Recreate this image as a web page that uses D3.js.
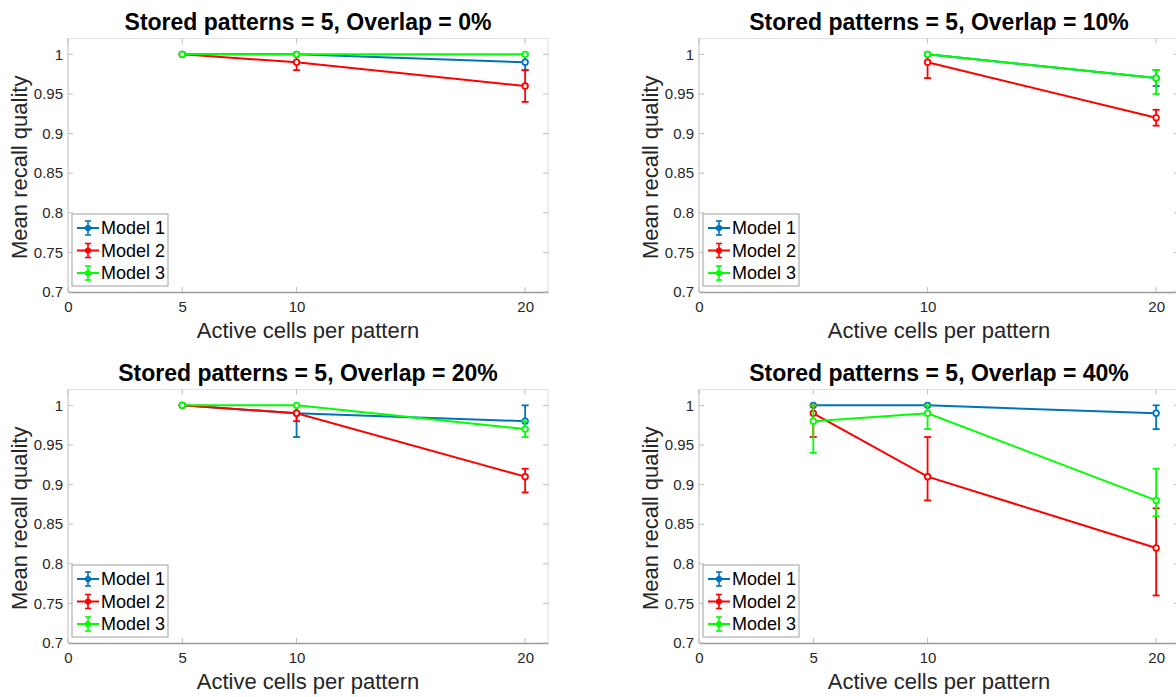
<!DOCTYPE html>
<html>
<head>
<meta charset="utf-8">
<script src="https://cdn.jsdelivr.net/npm/d3@7"></script>
<style>
  html, body { margin: 0; padding: 0; background: #fff; overflow: hidden; }
  svg { display: block; font-family: "Liberation Sans", Arial, Helvetica, sans-serif; }
</style>
</head>
<body>
<svg id="chart" width="1176" height="697"></svg>
<script>
// ---------- data ----------
const panelTitles = [
  "Stored patterns = 5, Overlap = 0%",
  "Stored patterns = 5, Overlap = 10%",
  "Stored patterns = 5, Overlap = 20%",
  "Stored patterns = 5, Overlap = 40%"
];
const modelNames = ["Model 1", "Model 2", "Model 3"];
const modelColors = ["#0072BD", "#FF0000", "#00FF00"];
const xTickSets = [[0, 5, 10, 20], [0, 10, 20], [0, 5, 10, 20], [0, 5, 10, 20]];
const yTickValues = [0.7, 0.75, 0.8, 0.85, 0.9, 0.95, 1];
const yTickLabels = ["0.7", "0.75", "0.8", "0.85", "0.9", "0.95", "1"];
const xLabel = "Active cells per pattern";
const yLabel = "Mean recall quality";

// active cells per pattern (x values), per panel
const activeCells = [[5, 10, 20], [10, 20], [5, 10, 20], [5, 10, 20]];

// Model 1
const model1Mean = [[1, 1, 0.99], [1, 0.97], [1, 0.99, 0.98], [1, 1, 0.99]];
const model1Low  = [[1, 1, 0.98], [1, 0.96], [1, 0.96, 0.97], [1, 1, 0.97]];
const model1High = [[1, 1, 1.00], [1, 0.98], [1, 1.00, 1.00], [1, 1, 1.00]];
// Model 2
const model2Mean = [[1, 0.99, 0.96], [0.99, 0.92], [1, 0.99, 0.91], [0.99, 0.91, 0.82]];
const model2Low  = [[1, 0.98, 0.94], [0.97, 0.91], [1, 0.98, 0.89], [0.96, 0.88, 0.76]];
const model2High = [[1, 1.00, 0.98], [1.00, 0.93], [1, 1.00, 0.92], [1.00, 0.96, 0.87]];
// Model 3
const model3Mean = [[1, 1, 1], [1, 0.97], [1, 1, 0.97], [0.98, 0.99, 0.88]];
const model3Low  = [[1, 1, 1], [1, 0.95], [1, 1, 0.96], [0.94, 0.97, 0.86]];
const model3High = [[1, 1, 1], [1, 0.98], [1, 1, 0.98], [1.00, 1.00, 0.92]];

const means = [model1Mean, model2Mean, model3Mean];
const lows = [model1Low, model2Low, model3Low];
const highs = [model1High, model2High, model3High];

// ---------- layout ----------
const svg = d3.select("#chart");
const panelOrigins = [[0, 0], [631, 0], [0, 351], [631, 351]];
const axLeft = 68, axRight = 548, axTop = 38.5, axBottom = 292;
const xDomain = [0, 21], yDomain = [0.7, 1.02];

const textColor = "#262626";

panelTitles.forEach((title, p) => {
  const [ox, oy] = panelOrigins[p];
  const g = svg.append("g").attr("transform", `translate(${ox},${oy})`);
  const x = d3.scaleLinear().domain(xDomain).range([axLeft, axRight]);
  const y = d3.scaleLinear().domain(yDomain).range([axBottom, axTop]);

  // box lines
  g.append("line").attr("x1", axLeft).attr("x2", axRight).attr("y1", axTop).attr("y2", axTop)
    .attr("stroke", "#e2e2e2").attr("stroke-width", 1.2);
  g.append("line").attr("x1", axRight).attr("x2", axRight).attr("y1", axTop).attr("y2", axBottom)
    .attr("stroke", "#e2e2e2").attr("stroke-width", 1.2);
  g.append("line").attr("x1", axLeft).attr("x2", axLeft).attr("y1", axTop).attr("y2", axBottom)
    .attr("stroke", "#c8c8c8").attr("stroke-width", 1.2);

  // bottom axis
  const xAxis = d3.axisBottom(x).tickValues(xTickSets[p]).tickSize(0).tickPadding(9)
    .tickFormat(d3.format("d"));
  const xg = g.append("g").attr("transform", `translate(0,${axBottom})`).call(xAxis);
  xg.select(".domain").attr("stroke", "#9a9a9a").attr("stroke-width", 1.5);
  xg.selectAll("text").attr("fill", textColor).style("font-size", "15px")
    .style("font-family", '"Liberation Sans", Arial, sans-serif');

  // left axis
  const yAxis = d3.axisLeft(y).tickValues(yTickValues).tickSize(0).tickPadding(5)
    .tickFormat((d, i) => yTickLabels[i]);
  const yg = g.append("g").attr("transform", `translate(${axLeft},0)`).call(yAxis);
  yg.select(".domain").remove();
  yg.selectAll("text").attr("fill", textColor).style("font-size", "15px")
    .style("font-family", '"Liberation Sans", Arial, sans-serif');

  // inward ticks (bottom/top/left/right)
  const tickColor = "#bdbdbd";
  xTickSets[p].forEach(v => {
    g.append("line").attr("x1", x(v)).attr("x2", x(v)).attr("y1", axBottom).attr("y2", axBottom - 5)
      .attr("stroke", tickColor);
    g.append("line").attr("x1", x(v)).attr("x2", x(v)).attr("y1", axTop).attr("y2", axTop + 5)
      .attr("stroke", tickColor);
  });
  yTickValues.forEach(v => {
    g.append("line").attr("x1", axLeft).attr("x2", axLeft + 5).attr("y1", y(v)).attr("y2", y(v))
      .attr("stroke", tickColor);
    g.append("line").attr("x1", axRight).attr("x2", axRight - 5).attr("y1", y(v)).attr("y2", y(v))
      .attr("stroke", tickColor);
  });

  // title
  g.append("text").attr("x", (axLeft + axRight) / 2).attr("y", 29.5)
    .attr("text-anchor", "middle").attr("font-weight", "bold").attr("font-size", 23)
    .attr("fill", "#000").text(title);
  // x label
  g.append("text").attr("x", (axLeft + axRight) / 2).attr("y", 338)
    .attr("text-anchor", "middle").attr("font-size", 22).attr("fill", textColor).text(xLabel);
  // y label
  g.append("text").attr("transform", `translate(27,${(axTop + axBottom) / 2 + 2}) rotate(-90)`)
    .attr("text-anchor", "middle").attr("font-size", 22).attr("fill", textColor).text(yLabel);

  // series
  const line = d3.line().x(d => x(d.x)).y(d => y(d.m));
  modelNames.forEach((name, s) => {
    const pts = activeCells[p].map((xv, i) => ({
      x: xv, m: means[s][p][i], lo: lows[s][p][i], hi: highs[s][p][i]
    }));
    const color = modelColors[s];
    const sg = g.append("g");
    sg.append("path").datum(pts).attr("d", line).attr("fill", "none")
      .attr("stroke", color).attr("stroke-width", 2);
    pts.forEach(d => {
      if (d.hi !== d.lo) {
        sg.append("line").attr("x1", x(d.x)).attr("x2", x(d.x)).attr("y1", y(d.lo)).attr("y2", y(d.hi))
          .attr("stroke", color).attr("stroke-width", 1.8);
        [d.lo, d.hi].forEach(v => {
          sg.append("line").attr("x1", x(d.x) - 3.5).attr("x2", x(d.x) + 3.5).attr("y1", y(v)).attr("y2", y(v))
            .attr("stroke", color).attr("stroke-width", 1.8);
        });
      }
    });
    sg.selectAll("circle").data(pts).enter().append("circle")
      .attr("cx", d => x(d.x)).attr("cy", d => y(d.m)).attr("r", 2.8)
      .attr("fill", "#fff").attr("stroke", color).attr("stroke-width", 1.8);
  });

  // legend
  const lgX = axLeft + 4, lgY = 214, lgW = 96, lgH = 72;
  const lg = g.append("g");
  lg.append("rect").attr("x", lgX).attr("y", lgY).attr("width", lgW).attr("height", lgH)
    .attr("fill", "#fff").attr("stroke", "#a0a0a0").attr("stroke-width", 1);
  modelNames.forEach((name, s) => {
    const ry = lgY + 14 + s * 22.5;
    const c = modelColors[s];
    const cx = lgX + 16;
    lg.append("line").attr("x1", lgX + 5).attr("x2", lgX + 27).attr("y1", ry).attr("y2", ry)
      .attr("stroke", c).attr("stroke-width", 2);
    lg.append("line").attr("x1", cx).attr("x2", cx).attr("y1", ry - 7).attr("y2", ry + 7)
      .attr("stroke", c).attr("stroke-width", 1.6);
    [ry - 7, ry + 7].forEach(v => lg.append("line").attr("x1", cx - 3).attr("x2", cx + 3)
      .attr("y1", v).attr("y2", v).attr("stroke", c).attr("stroke-width", 1.6));
    lg.append("circle").attr("cx", cx).attr("cy", ry).attr("r", 2.5)
      .attr("fill", c).attr("stroke", c).attr("stroke-width", 1.2);
    lg.append("text").attr("x", lgX + 29).attr("y", ry + 6).attr("font-size", 18)
      .attr("fill", "#000").text(name);
  });
});
</script>
</body>
</html>
